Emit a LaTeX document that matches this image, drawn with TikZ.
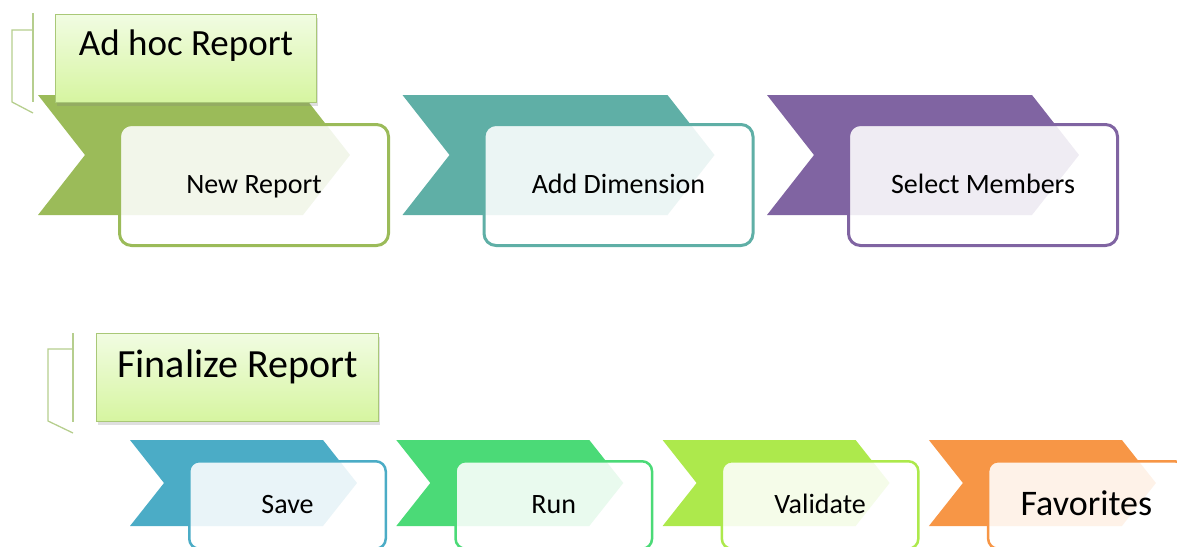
\documentclass[tikz,border=0pt]{standalone}
\usepackage{fontspec}
\setmainfont{Carlito}
\usepackage{xcolor}
\definecolor{cgreen}{HTML}{9BBB59}
\definecolor{cteal}{HTML}{5FAFA6}
\definecolor{cpurple}{HTML}{8064A2}
\definecolor{cblue}{HTML}{4BACC6}
\definecolor{crun}{HTML}{4BDA77}
\definecolor{clime}{HTML}{ADE94C}
\definecolor{corange}{HTML}{F79646}
\definecolor{hdtop}{HTML}{F1FCE2}
\definecolor{hdbot}{HTML}{D6F5A0}
\definecolor{hdline}{HTML}{A9C877}
\definecolor{brline}{HTML}{B6CE8E}
\usetikzlibrary{positioning,shadows}
\tikzset{
  bracket/.style  = {draw=brline, line width=1.3pt},
  titlebox/.style = {rectangle, draw=hdline, line width=1pt,
                     top color=hdtop, bottom color=hdbot, inner sep=0pt,
                     drop shadow={opacity=0.25, shadow xshift=1.5pt, shadow yshift=-3pt},
                     anchor=north west},
  stepbox/.style  = {rectangle, rounded corners=12pt, draw=#1, line width=3pt,
                     fill=white, fill opacity=0.88, text opacity=1,
                     minimum width=269pt, minimum height=121pt, inner sep=0pt,
                     text height=16pt, text depth=0pt,
                     font=\fontsize{28}{32}\selectfont},
  smallbox/.style = {stepbox=#1, rounded corners=10pt, line width=2.5pt,
                     minimum width=196.5pt, minimum height=87.5pt}
}

\begin{document}
\begin{tikzpicture}[x=1pt, y=-1pt]
  \path[use as bounding box] (0,0) rectangle (1177,546);
  \clip (0,0) rectangle (1177,546);

  % first group
  \draw[bracket] (33,13) -- (33,102);
  \draw[bracket] (33,30) -- (12,30) -- (12,102) -- (33,113);
  \foreach \i/\col/\txt in {0/cgreen/New Report, 1/cteal/Add Dimension, 2/cpurple/Select Members} {
    \pgfmathsetmacro{\L}{38+364.5*\i}
    \fill[\col] (\L,95) -- ++(265,0) -- ++(47,60) -- ++(-47,60) -- ++(-265,0) -- ++(47,-60) -- cycle;
    \node[stepbox=\col] (ra\i) at (\L+216,185) {\txt};
  }
  \node[titlebox, minimum width=261pt, minimum height=88pt,
        text height=41pt, text depth=47pt,
        font=\fontsize{37}{40}\selectfont] (adhoc) at (55,14) {Ad hoc Report};

  % second group
  \draw[bracket] (73,333) -- (73,422);
  \draw[bracket] (73,349) -- (48,349) -- (48,421) -- (73,433);
  \foreach \i/\col/\txt/\fs/\th in {0/cblue/Save/28/16, 1/crun/Run/28/16, 2/clime/Validate/28/16, 3/corange/Favorites/36/20} {
    \pgfmathsetmacro{\L}{130+266.3*\i}
    \fill[\col] (\L,440) -- ++(193,0) -- ++(34,43) -- ++(-34,43) -- ++(-193,0) -- ++(34,-43) -- cycle;
    \node[smallbox=\col, text height=\th pt, font=\fontsize{\fs}{\fs}\selectfont] (rb\i) at (\L+157.5,505) {\txt};
  }
  \node[titlebox, minimum width=282pt, minimum height=88pt,
        text height=44pt, text depth=44pt,
        font=\fontsize{40}{44}\selectfont] (final) at (96,333) {Finalize Report};
\end{tikzpicture}
\end{document}
